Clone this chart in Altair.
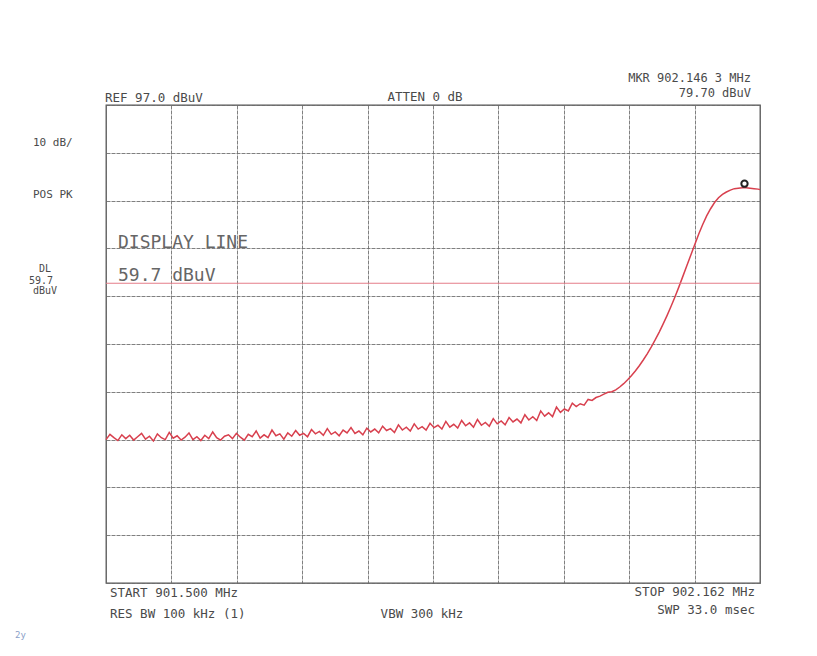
import altair as alt
import pandas as pd

# Sweep frequencies (MHz)
freq_mhz = [
    901.500, 901.504, 901.508, 901.512, 901.516, 901.520, 901.524, 901.528, 901.532, 901.536,
    901.540, 901.544, 901.548, 901.552, 901.556, 901.560, 901.564, 901.568, 901.572, 901.576,
    901.580, 901.584, 901.588, 901.592, 901.596, 901.600, 901.604, 901.608, 901.612, 901.616,
    901.620, 901.624, 901.628, 901.632, 901.636, 901.640, 901.644, 901.648, 901.652, 901.656,
    901.660, 901.664, 901.668, 901.672, 901.676, 901.680, 901.684, 901.688, 901.692, 901.696,
    901.700, 901.704, 901.708, 901.712, 901.716, 901.720, 901.724, 901.728, 901.732, 901.736,
    901.740, 901.744, 901.748, 901.752, 901.756, 901.760, 901.764, 901.768, 901.772, 901.776,
    901.780, 901.784, 901.788, 901.792, 901.796, 901.800, 901.804, 901.808, 901.812, 901.816,
    901.820, 901.824, 901.828, 901.832, 901.836, 901.840, 901.844, 901.848, 901.852, 901.856,
    901.860, 901.864, 901.868, 901.872, 901.876, 901.880, 901.884, 901.888, 901.892, 901.896,
    901.900, 901.904, 901.908, 901.912, 901.916, 901.920, 901.924, 901.928, 901.932, 901.936,
    901.940, 901.944, 901.948, 901.952, 901.956, 901.960, 901.964, 901.968, 901.972, 901.976,
    901.980, 901.984, 901.988, 901.992, 901.996, 902.000, 902.004, 902.008, 902.012, 902.016,
    902.020, 902.024, 902.028, 902.032, 902.036, 902.040, 902.044, 902.048, 902.052, 902.056,
    902.060, 902.064, 902.068, 902.072, 902.076, 902.080, 902.084, 902.088, 902.092, 902.096,
    902.100, 902.104, 902.108, 902.112, 902.116, 902.120, 902.124, 902.128, 902.132, 902.136,
    902.140, 902.144, 902.148, 902.152, 902.156, 902.160, 902.162,
]

# Trace level (dBuV)
level_dbuv = [
    27.0, 28.1, 27.4, 26.8, 28.0, 27.2, 27.9, 26.9, 27.6, 28.3,
    27.1, 27.7, 26.7, 28.2, 27.4, 27.0, 28.5, 27.3, 27.8, 26.9,
    27.5, 28.4, 27.0, 27.6, 26.8, 27.9, 27.2, 28.6, 27.4, 26.9,
    27.7, 28.0, 27.2, 28.3, 27.5, 26.9, 28.1, 27.6, 28.8, 27.3,
    28.0, 27.4, 29.0, 27.8, 28.2, 27.1, 28.4, 27.7, 28.9, 27.9,
    28.3, 27.6, 29.1, 28.2, 28.7, 27.9, 29.3, 28.1, 28.6, 27.8,
    29.0, 28.4, 29.5, 28.3, 28.8, 28.0, 29.4, 28.6, 29.2, 28.4,
    29.8, 28.9, 29.3, 28.5, 30.1, 29.0, 29.6, 28.8, 30.3, 29.2,
    29.7, 29.0, 30.4, 29.5, 30.0, 29.2, 30.8, 29.6, 30.2, 29.4,
    31.0, 29.9, 30.5, 29.6, 31.2, 30.0, 30.6, 29.8, 31.4, 30.3,
    30.9, 30.1, 31.6, 30.7, 31.3, 30.5, 32.2, 31.1, 31.8, 31.0,
    33.0, 31.9, 32.6, 31.8, 33.8, 32.7, 33.4, 33.0, 34.6, 33.9,
    34.5, 34.2, 35.4, 35.2, 35.8, 36.1, 36.5, 36.9, 37.0, 37.4,
    38.0, 38.7, 39.5, 40.4, 41.4, 42.5, 43.7, 45.0, 46.4, 47.9,
    49.5, 51.2, 53.0, 54.9, 56.9, 59.0, 61.2, 63.4, 65.6, 67.8,
    70.0, 72.0, 73.8, 75.3, 76.6, 77.6, 78.3, 78.8, 79.2, 79.5,
    79.6, 79.7, 79.7, 79.6, 79.5, 79.4, 79.3,
]

x_grid = [901.5, 901.5662, 901.6324, 901.6986, 901.7648, 901.831,
          901.8972, 901.9634, 902.0296, 902.0958, 902.162]
y_grid = [-3, 7, 17, 27, 37, 47, 57, 67, 77, 87, 97]
display_line = [59.7]
marker_freq = [902.1463]
marker_level = [79.70]

FONT = "DejaVu Sans Mono"
TXT = "#4a4a4a"

trace_df = pd.DataFrame({"f": freq_mhz, "a": level_dbuv})
xs = alt.Scale(domain=[901.5, 902.162], nice=False, zero=False)
ys = alt.Scale(domain=[-3, 97], nice=False, zero=False)

ax_common = dict(labels=False, ticks=False, domain=False, title=None, grid=True,
                 gridColor="#6a6a6a", gridWidth=1, gridDash=[4, 1], gridOpacity=0.85)

trace = alt.Chart(trace_df).mark_line(color="#d8404e", strokeWidth=1.5).encode(
    x=alt.X("f:Q", scale=xs, axis=alt.Axis(values=x_grid, **ax_common)),
    y=alt.Y("a:Q", scale=ys, axis=alt.Axis(values=y_grid, **ax_common)),
)

dl = alt.Chart(pd.DataFrame({"dl": display_line})).mark_rule(
    color="#e47c88", strokeWidth=1.1).encode(y=alt.Y("dl:Q", scale=ys))

marker = alt.Chart(pd.DataFrame({"f": marker_freq, "a": marker_level})).mark_point(
    shape="circle", filled=False, color="#222", size=40, strokeWidth=2, yOffset=-4, opacity=1
).encode(x=alt.X("f:Q", scale=xs), y=alt.Y("a:Q", scale=ys))


def label(text, x, y, align="left", size=12.5, color=TXT):
    return alt.Chart(pd.DataFrame({"t": [text]})).mark_text(
        align=align, baseline="alphabetic", font=FONT, fontSize=size, color=color
    ).encode(text="t:N", x=alt.value(x), y=alt.value(y))


texts = [
    label("REF  97.0 dBuV", -1, -3),
    label("ATTEN 0 dB", 319, -4.5, align="center"),
    label("MKR 902.146 3 MHz", 645, -23, align="right", size=12),
    label("79.70 dBuV", 645, -8.5, align="right", size=12),
    label("10 dB/", -73, 40.5, size=11),
    label("POS PK", -73, 93, size=11),
    label("DL", -61, 167, align="center", size=10),
    label("59.7", -65, 178.5, align="center", size=10),
    label("dBuV", -61, 189, align="center", size=10),
    label("DISPLAY LINE", 12, 143, size=18, color="#666"),
    label("59.7 dBuV", 12, 176, size=18, color="#666"),
    label("START 901.500 MHz", 4, 491.5),
    label("RES BW 100 kHz (1)", 4, 512.5),
    label("VBW 300 kHz", 316, 512.5, align="center"),
    label("STOP 902.162 MHz", 649, 490.5, align="right"),
    label("SWP 33.0 msec", 649, 508.5, align="right"),
    label("2y", -91, 533, size=9, color="#8aa0c8"),
]

chart = alt.layer(trace, dl, marker, *texts).properties(
    width=654,
    height=478,
    autosize=alt.AutoSizeParams(type="none"),
    padding={"left": 98, "top": 97, "right": 49, "bottom": 60},
    background="white",
).configure_view(stroke="#555", strokeWidth=1.3)

chart.save("out.html", embed_options={"renderer": "svg", "actions": False})
